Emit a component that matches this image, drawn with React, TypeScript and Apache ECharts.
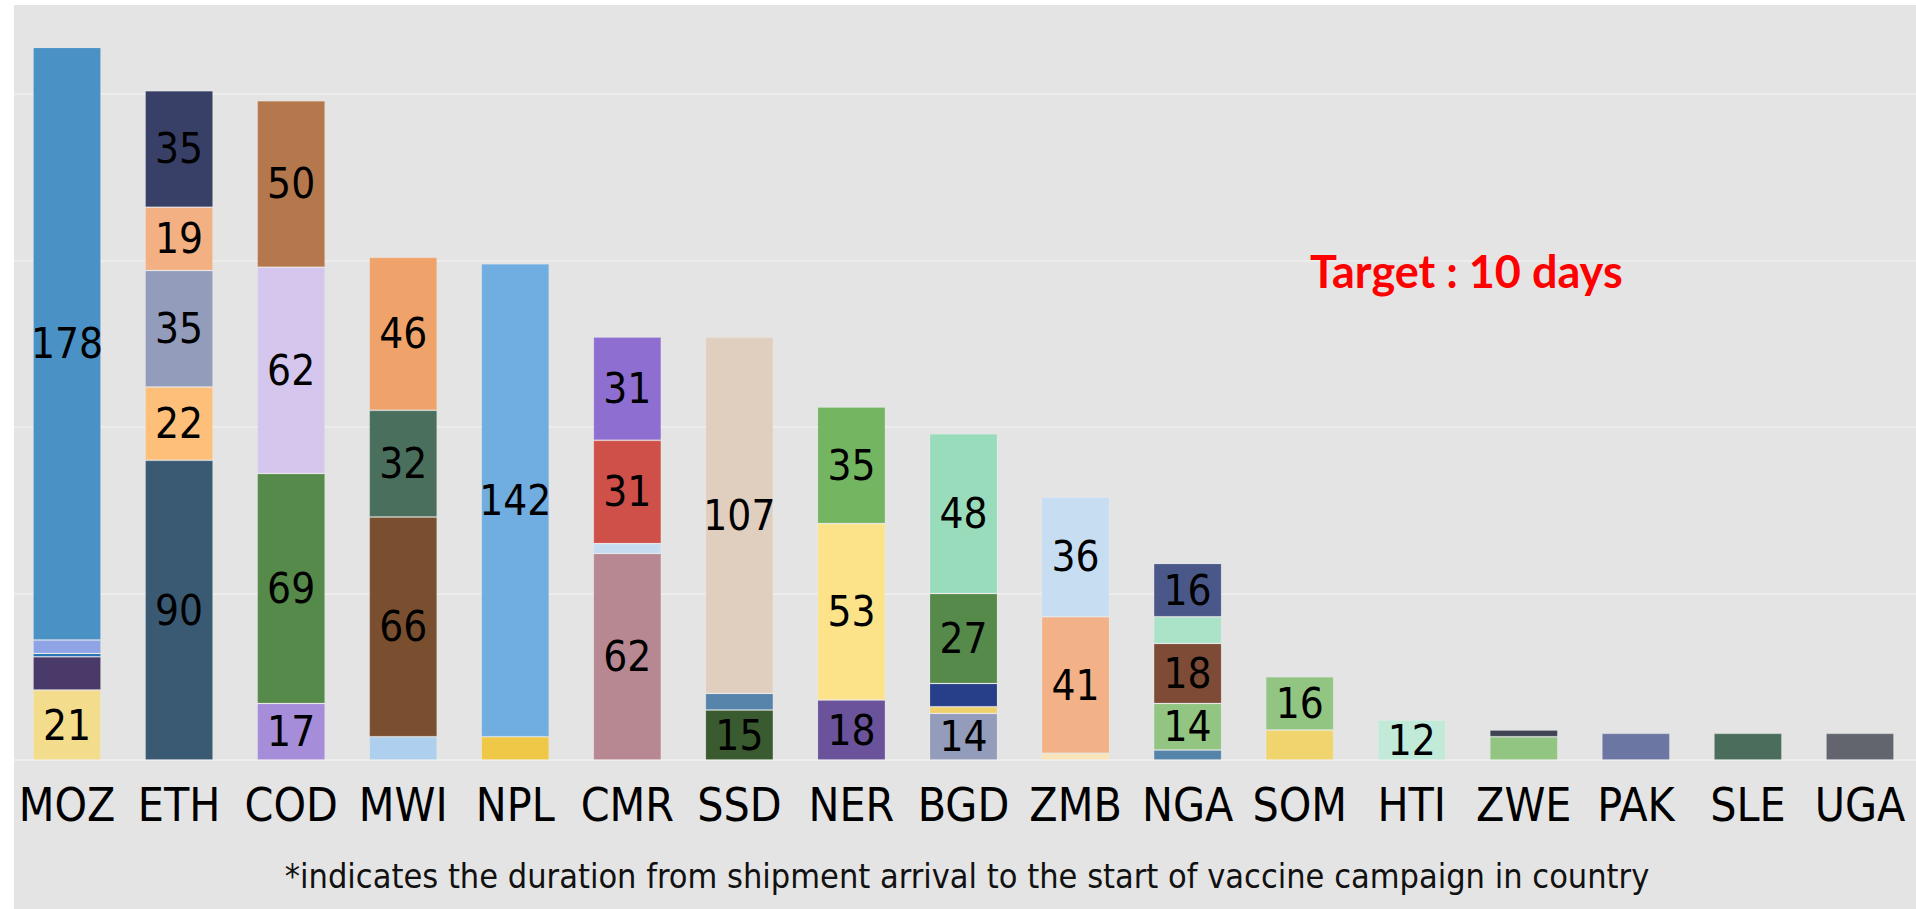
import React, { useEffect, useRef } from "react";
import * as echarts from "echarts";

const categories = ["MOZ", "ETH", "COD", "MWI", "NPL", "CMR", "SSD", "NER", "BGD", "ZMB", "NGA", "SOM", "HTI", "ZWE", "PAK", "SLE", "UGA"];

// stacked segment values per country, bottom to top (days)
const mozValues = [21, 10, 1, 4, 178];
const ethValues = [90, 22, 35, 19, 35];
const codValues = [17, 69, 62, 50];
const mwiValues = [7, 66, 32, 46];
const nplValues = [7, 142];
const cmrValues = [62, 3, 31, 31];
const ssdValues = [15, 5, 107];
const nerValues = [18, 53, 35];
const bgdValues = [14, 2, 7, 27, 48];
const zmbValues = [2, 41, 36];
const ngaValues = [3, 14, 18, 8, 16];
const somValues = [9, 16];
const htiValues = [12];
const zweValues = [7, 2];
const pakValues = [8];
const sleValues = [8];
const ugaValues = [8];

const segmentValues = [mozValues, ethValues, codValues, mwiValues, nplValues, cmrValues, ssdValues, nerValues, bgdValues, zmbValues, ngaValues, somValues, htiValues, zweValues, pakValues, sleValues, ugaValues];

const segmentColors = [
  ["#F3DC8C", "#4A3A6A", "#1F6FB4", "#8EA4E6", "#4A91C6"],
  ["#3A5A74", "#FDBF7A", "#939DBB", "#F3B082", "#384068"],
  ["#A68DD9", "#568A4A", "#D5C6EE", "#B5784C"],
  ["#AED0EE", "#7A4F30", "#4A6F5D", "#EFA36A"],
  ["#EEC846", "#70ADE0"],
  ["#B78792", "#C6DDF1", "#CF4F49", "#8E6FD1"],
  ["#3A5A30", "#5684AA", "#E0CFBF"],
  ["#6A539B", "#FCE38A", "#74B562"],
  ["#939CBA", "#F0D06A", "#273F88", "#558A4A", "#98DCBB"],
  ["#F8E4B8", "#F2B186", "#C7DEF2"],
  ["#5584AA", "#92C582", "#7E4C36", "#ABE3C9", "#4A5889"],
  ["#F0D46E", "#92C582"],
  ["#C2EAD8"],
  ["#92C582", "#3F4452"],
  ["#6C76A2"],
  ["#4B6E5C"],
  ["#62656E"],
];

const targetText = "Target : 10 days";
const footnoteText = "*indicates the duration from shipment arrival to the start of vaccine campaign in country";

const NARROW = "'DejaVu Sans Condensed', 'Liberation Sans Narrow', sans-serif";

export default function App() {
  const ref = useRef<HTMLDivElement>(null);
  useEffect(() => {
    if (!ref.current) return;
    const chart = echarts.init(ref.current, null, { renderer: "svg" });
    const layers = Math.max(...segmentValues.map((s) => s.length));
    const series: any[] = [];
    for (let i = 0; i < layers; i++) {
      series.push({
        type: "bar",
        stack: "total",
        barWidth: 68,
        clip: false,
        data: categories.map((_, k) => {
          const v = segmentValues[k][i];
          if (v === undefined) return "-";
          return {
            value: v,
            itemStyle: { color: segmentColors[k][i] },
            label: { show: v >= 12 },
          };
        }),
        itemStyle: { borderColor: "rgba(255,255,255,0.15)", borderWidth: 1 },
        label: {
          show: true,
          position: "inside",
          color: "#000",
          fontFamily: NARROW,
          fontSize: 42,
        },
      });
    }
    chart.setOption({
      animation: false,
      backgroundColor: "#E4E4E4",
      grid: { left: 11, right: -7, top: 94, bottom: 149, containLabel: false },
      xAxis: {
        type: "category",
        data: categories,
        axisTick: { show: false },
        axisLine: { lineStyle: { color: "#EDEDED", width: 2 } },
        axisLabel: { color: "#000", fontSize: 46, fontFamily: NARROW, margin: 22, interval: 0 },
      },
      yAxis: {
        type: "value",
        min: 0,
        max: 200,
        interval: 50,
        axisLabel: { show: false },
        axisLine: { show: false },
        axisTick: { show: false },
        splitLine: { lineStyle: { color: "#ECECEC", width: 2 } },
      },
      series,
      graphic: [
        { type: "rect", z: 100, shape: { x: 0, y: 0, width: 14, height: 909 }, style: { fill: "#FFFFFF" } },
        { type: "rect", z: 100, shape: { x: 0, y: 0, width: 1916, height: 5 }, style: { fill: "#FFFFFF" } },
        {
          type: "text",
          z: 100,
          x: 1310,
          y: 271,
          style: {
            text: targetText,
            fill: "#FF0000",
            font: "bold 45px Lato, 'Open Sans', sans-serif",
            textVerticalAlign: "middle",
          },
        },
        {
          type: "text",
          z: 100,
          x: 967,
          y: 876,
          style: {
            text: footnoteText,
            fill: "#111111",
            font: "34px " + NARROW,
            textAlign: "center",
            textVerticalAlign: "middle",
          },
        },
      ],
    });
    return () => chart.dispose();
  }, []);
  return <div ref={ref} style={{ position: "fixed", left: 0, top: 0, width: 1916, height: 909 }} />;
}
